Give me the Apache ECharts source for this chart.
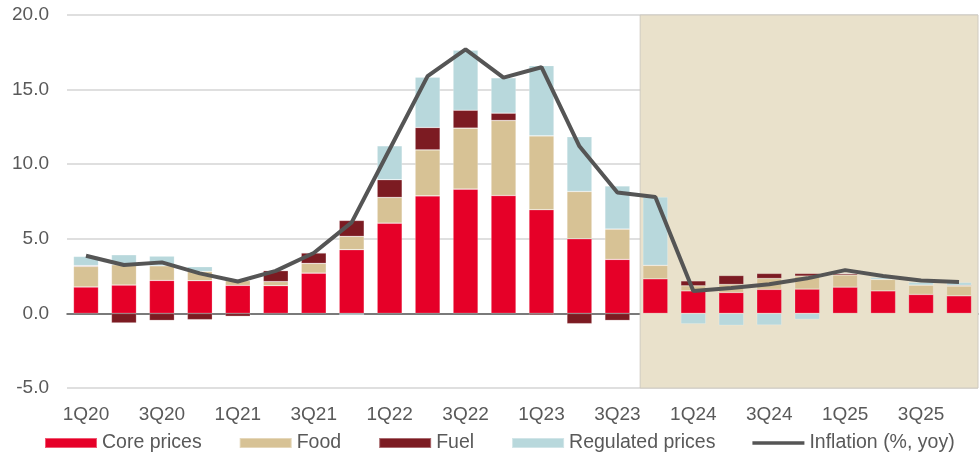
<!DOCTYPE html>
<html>
<head>
<meta charset="utf-8">
<script src="https://cdn.jsdelivr.net/npm/echarts@6/dist/echarts.min.js"></script>
<style>
  html, body { margin: 0; padding: 0; background: #fff; }
  #chart { width: 980px; height: 456px; }
</style>
</head>
<body>
<div id="chart"></div>
<script>
const quarters = ['1Q20', '2Q20', '3Q20', '4Q20', '1Q21', '2Q21', '3Q21', '4Q21',
  '1Q22', '2Q22', '3Q22', '4Q22', '1Q23', '2Q23', '3Q23', '4Q23',
  '1Q24', '2Q24', '3Q24', '4Q24', '1Q25', '2Q25', '3Q25', '4Q25']

// contributions, p.p.
const corePrices = [1.77, 1.90, 2.21, 2.19, 1.88, 1.86, 2.70, 4.27, 6.05, 7.88, 8.33, 7.90,
  6.95, 5.00, 3.62, 2.32, 1.51, 1.40, 1.61, 1.63, 1.76, 1.51, 1.27, 1.18]
const food = [1.38, 1.36, 0.98, 0.62, 0.31, 0.27, 0.65, 0.89, 1.72, 3.08, 4.09, 5.03,
  4.95, 3.17, 2.03, 0.90, 0.34, 0.54, 0.73, 0.87, 0.81, 0.77, 0.63, 0.65]
const fuel = [0.05, -0.64, -0.47, -0.42, -0.20, 0.74, 0.70, 1.07, 1.19, 1.50, 1.20, 0.49,
  -0.10, -0.69, -0.47, 0, 0.33, 0.60, 0.34, 0.18, 0.10, 0, 0, 0.05]
const regulated = [0.62, 0.67, 0.65, 0.32, 0, 0, 0.05, -0.10, 2.27, 3.37, 4.02, 2.37,
  4.71, 3.67, 2.90, 4.58, -0.70, -0.80, -0.78, -0.40, 0, 0.13, 0.18, 0.20]
const inflation = [3.86, 3.24, 3.42, 2.68, 2.14, 2.85, 4.05, 6.10, 11.0, 15.9, 17.7, 15.8,
  16.5, 11.2, 8.1, 7.8, 1.5, 1.7, 1.95, 2.35, 2.9, 2.5, 2.2, 2.1]

const forecastFrom = '4Q23'

const textColor = '#595959'
const lineColor = '#555555'
const font = 'Liberation Sans, Arial, sans-serif'

const chart = echarts.init(document.getElementById('chart'), null, { renderer: 'canvas' })

const barSeries = (name, data, color) => ({
  name,
  type: 'bar',
  stack: 'total',
  data,
  barWidth: 25,
  xAxisIndex: 0,
  itemStyle: { color, borderColor: 'rgba(255,255,255,0.35)', borderWidth: 0.6 },
  z: 2
})

// thin bar inside a 52x10 box, so the legend keeps it thin
const lineIcon = 'path://M0,0L0,0ZM0,3.2L52,3.2L52,6.8L0,6.8ZM0,10L0,10Z'

const option = {
  animation: false,
  textStyle: { fontFamily: font },
  grid: { left: 67, right: 2, top: 15, bottom: 68 },
  legend: {
    left: 44,
    top: 433,
    padding: 0,
    itemWidth: 52,
    itemHeight: 10,
    itemGap: 37,
    textStyle: { color: textColor, fontSize: 19.5, fontFamily: font },
    data: [
      { name: 'Core prices', icon: 'rect' },
      { name: 'Food', icon: 'rect' },
      { name: 'Fuel', icon: 'rect' },
      { name: 'Regulated prices', icon: 'rect' },
      { name: 'Inflation (%, yoy)', icon: lineIcon, itemStyle: { color: lineColor } }
    ]
  },
  xAxis: [
    {
      type: 'category',
      data: quarters,
      position: 'bottom',
      axisLine: { show: false, onZero: false },
      axisTick: { show: false },
      axisLabel: { interval: 1, color: textColor, fontSize: 19, margin: 17, fontFamily: font }
    },
    {
      type: 'category',
      data: quarters,
      position: 'bottom',
      axisLine: { onZero: true, lineStyle: { color: '#595959', width: 1.5 } },
      axisTick: { interval: 1, length: 5, lineStyle: { color: '#404040', width: 1 } },
      axisLabel: { show: false }
    },
    {
      type: 'value',
      min: 0,
      max: quarters.length,
      show: false
    }
  ],
  yAxis: {
    type: 'value',
    min: -5,
    max: 20,
    interval: 5,
    axisLine: { show: false },
    axisTick: { show: false },
    splitLine: { lineStyle: { color: '#d4d4d4', width: 1.5 } },
    axisLabel: {
      color: textColor,
      fontSize: 19,
      margin: 18,
      fontFamily: font,
      formatter: v => v.toFixed(1)
    }
  },
  series: [
    {
      type: 'line',
      xAxisIndex: 2,
      data: [],
      silent: true,
      z: -1,
      markArea: {
        silent: true,
        itemStyle: { color: '#E9E1CB', borderColor: '#cfcac0', borderWidth: 1 },
        data: [[
          { xAxis: quarters.indexOf(forecastFrom) + 0.1, yAxis: -5 },
          { xAxis: quarters.length, yAxis: 20 }
        ]]
      }
    },
    barSeries('Core prices', corePrices, '#E60028'),
    barSeries('Food', food, '#D7C295'),
    barSeries('Fuel', fuel, '#7C1B22'),
    barSeries('Regulated prices', regulated, '#B8D8DC'),
    {
      name: 'Inflation (%, yoy)',
      type: 'line',
      data: inflation,
      xAxisIndex: 0,
      symbol: 'none',
      showSymbol: false,
      color: lineColor,
      lineStyle: { color: lineColor, width: 4 },
      z: 5
    }
  ]
}

chart.setOption(option)
</script>
</body>
</html>
